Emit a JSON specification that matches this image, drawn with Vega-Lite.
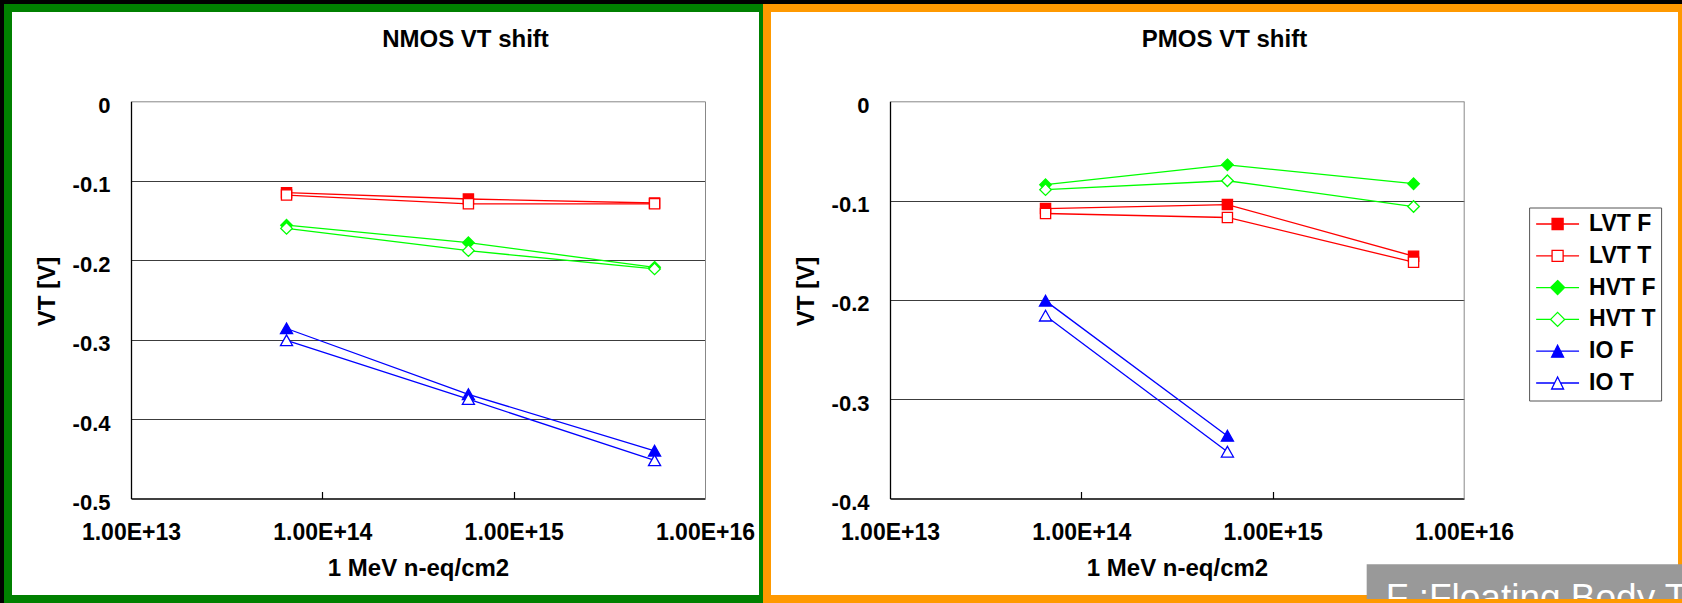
{
  "$schema": "https://vega.github.io/schema/vega-lite/v6.json",
  "background": "#000000",
  "padding": {"left": 4, "top": 4, "right": 0, "bottom": 0},
  "spacing": -8,
  "datasets": {
    "nmos": [
      {"series": "LVT F", "dose": 6.5e13, "vt": -0.115},
      {"series": "LVT F", "dose": 5.8e14, "vt": -0.123},
      {"series": "LVT F", "dose": 5.45e15, "vt": -0.128},
      {"series": "HVT F", "dose": 6.5e13, "vt": -0.156},
      {"series": "HVT F", "dose": 5.8e14, "vt": -0.178},
      {"series": "HVT F", "dose": 5.45e15, "vt": -0.209},
      {"series": "IO F", "dose": 6.5e13, "vt": -0.286},
      {"series": "IO F", "dose": 5.8e14, "vt": -0.369},
      {"series": "IO F", "dose": 5.45e15, "vt": -0.440},
      {"series": "LVT T", "dose": 6.5e13, "vt": -0.118},
      {"series": "LVT T", "dose": 5.8e14, "vt": -0.129},
      {"series": "LVT T", "dose": 5.45e15, "vt": -0.129},
      {"series": "HVT T", "dose": 6.5e13, "vt": -0.160},
      {"series": "HVT T", "dose": 5.8e14, "vt": -0.188},
      {"series": "HVT T", "dose": 5.45e15, "vt": -0.211},
      {"series": "IO T", "dose": 6.5e13, "vt": -0.301},
      {"series": "IO T", "dose": 5.8e14, "vt": -0.375},
      {"series": "IO T", "dose": 5.45e15, "vt": -0.452}
    ],
    "pmos": [
      {"series": "LVT F", "dose": 6.5e13, "vt": -0.108},
      {"series": "LVT F", "dose": 5.8e14, "vt": -0.104},
      {"series": "LVT F", "dose": 5.45e15, "vt": -0.156},
      {"series": "HVT F", "dose": 6.5e13, "vt": -0.084},
      {"series": "HVT F", "dose": 5.8e14, "vt": -0.064},
      {"series": "HVT F", "dose": 5.45e15, "vt": -0.083},
      {"series": "IO F", "dose": 6.5e13, "vt": -0.201},
      {"series": "IO F", "dose": 5.8e14, "vt": -0.337},
      {"series": "LVT T", "dose": 6.5e13, "vt": -0.113},
      {"series": "LVT T", "dose": 5.8e14, "vt": -0.117},
      {"series": "LVT T", "dose": 5.45e15, "vt": -0.162},
      {"series": "HVT T", "dose": 6.5e13, "vt": -0.089},
      {"series": "HVT T", "dose": 5.8e14, "vt": -0.080},
      {"series": "HVT T", "dose": 5.45e15, "vt": -0.106},
      {"series": "IO T", "dose": 6.5e13, "vt": -0.216},
      {"series": "IO T", "dose": 5.8e14, "vt": -0.353}
    ]
  },
  "hconcat": [
    {
      "width": 755,
      "height": 591,
      "view": {"fill": "#ffffff", "stroke": "#008000", "strokeWidth": 8},
      "title": {"text": "NMOS VT shift", "anchor": "middle", "frame": "group", "dx": 80, "offset": -44, "baseline": "top", "fontSize": 24, "fontWeight": "bold", "font": "Liberation Sans", "color": "#000000"},
      "data": {"name": "nmos"},
      "layer": [
        {
          "mark": {"type": "line", "strokeWidth": 1.3},
          "encoding": {
            "x": {"field": "dose", "type": "quantitative", "scale": {"type": "log", "domain": [1e13, 1e16], "range": [123, 697], "nice": false},
              "axis": {"orient": "bottom", "offset": -100.5, "values": [1e13, 1e14, 1e15, 1e16], "labelExpr": "upper(format(datum.value, '.2e'))", "ticks": false, "grid": false, "domainColor": "#000000", "domainWidth": 1.3, "labelFontSize": 23, "labelPadding": 22.5, "labelFlush": false, "labelOverlap": false, "labelBound": false, "title": "1 MeV n-eq/cm2", "titleFontSize": 24, "titlePadding": 12}},
            "y": {"field": "vt", "type": "quantitative", "scale": {"domain": [-0.5, 0], "range": [490.5, 93.3], "nice": false, "zero": false},
              "axis": {"orient": "left", "offset": -123, "values": [0, -0.1, -0.2, -0.3, -0.4, -0.5], "labelExpr": "datum.value == 0 ? '0' : '-' + format(-datum.value, '.1f')", "ticks": false, "grid": false, "domainColor": "#000000", "domainWidth": 1.3, "labelFontSize": 22, "labelPadding": 21, "labelOffset": 4, "labelOverlap": false, "labelFlush": false, "title": "VT [V]", "titleFontSize": 24, "titlePadding": 13, "titleY": 283}},
            "stroke": {"field": "series", "type": "nominal", "scale": {"domain": ["LVT F", "LVT T", "HVT F", "HVT T", "IO F", "IO T"], "range": ["#ff0000", "#ff0000", "#00ff00", "#00ff00", "#0000ff", "#0000ff"]}, "legend": null}
          }
        },
        {
          "mark": {"type": "point", "filled": true, "opacity": 1, "size": 121, "strokeWidth": 1.3},
          "encoding": {
            "x": {"field": "dose", "type": "quantitative", "scale": {"type": "log", "domain": [1e13, 1e16], "range": [123, 697], "nice": false},
              "axis": {"orient": "top", "offset": -93.3, "labels": false, "ticks": false, "grid": false, "domainColor": "#888888", "domainWidth": 1, "title": null}},
            "y": {"field": "vt", "type": "quantitative", "scale": {"domain": [-0.5, 0], "range": [490.5, 93.3], "nice": false, "zero": false},
              "axis": {"orient": "left", "offset": -123, "values": [-0.1, -0.2, -0.3, -0.4], "labels": false, "ticks": false, "domain": false, "grid": true, "gridColor": "#3c3c3c", "gridWidth": 1, "title": null}},
            "stroke": {"field": "series", "type": "nominal", "scale": {"domain": ["LVT F", "LVT T", "HVT F", "HVT T", "IO F", "IO T"], "range": ["#ff0000", "#ff0000", "#00ff00", "#00ff00", "#0000ff", "#0000ff"]}, "legend": null},
            "fill": {"field": "series", "type": "nominal", "scale": {"domain": ["LVT F", "LVT T", "HVT F", "HVT T", "IO F", "IO T"], "range": ["#ff0000", "#ffffff", "#00ff00", "#ffffff", "#0000ff", "#ffffff"]}, "legend": null},
            "shape": {"field": "series", "type": "nominal", "scale": {"domain": ["LVT F", "LVT T", "HVT F", "HVT T", "IO F", "IO T"], "range": ["M-0.93,-0.93H0.93V0.93H-0.93Z", "M-0.93,-0.93H0.93V0.93H-0.93Z", "M0,-1.05L1.05,0L0,1.05L-1.05,0Z", "M0,-1.05L1.05,0L0,1.05L-1.05,0Z", "M0,-1L1.1,0.95L-1.1,0.95Z", "M0,-1L1.1,0.95L-1.1,0.95Z"]}, "legend": null}
          }
        },
        {
          "transform": [{"filter": "false"}],
          "mark": {"type": "point", "opacity": 0},
          "encoding": {
            "x": {"field": "dose", "type": "quantitative", "scale": {"type": "log", "domain": [1e13, 1e16], "range": [123, 697], "nice": false},
              "axis": {"orient": "top", "offset": -490.5, "values": [1e14, 1e15], "labels": false, "domain": false, "ticks": true, "tickSize": 7, "tickWidth": 1.2, "tickColor": "#000000", "grid": false, "title": null}},
            "y": {"field": "vt", "type": "quantitative", "scale": {"domain": [-0.5, 0], "range": [490.5, 93.3], "nice": false, "zero": false},
              "axis": {"orient": "right", "offset": -58, "labels": false, "ticks": false, "grid": false, "domainColor": "#888888", "domainWidth": 1, "title": null}}
          }
        }
      ],
      "resolve": {"scale": {"stroke": "independent", "fill": "independent", "shape": "independent"}, "axis": {"x": "independent", "y": "independent"}}
    },
    {
      "width": 915,
      "height": 591,
      "view": {"fill": "#ffffff", "stroke": "#ff9900", "strokeWidth": 8},
      "title": {"text": "PMOS VT shift", "anchor": "middle", "frame": "group", "dx": 0, "offset": -44, "baseline": "top", "fontSize": 24, "fontWeight": "bold", "font": "Liberation Sans", "color": "#000000"},
      "data": {"name": "pmos"},
      "layer": [
        {
          "mark": {"type": "line", "strokeWidth": 1.3},
          "encoding": {
            "x": {"field": "dose", "type": "quantitative", "scale": {"type": "log", "domain": [1e13, 1e16], "range": [123, 697], "nice": false},
              "axis": {"orient": "bottom", "offset": -100.5, "values": [1e13, 1e14, 1e15, 1e16], "labelExpr": "upper(format(datum.value, '.2e'))", "ticks": false, "grid": false, "domainColor": "#000000", "domainWidth": 1.3, "labelFontSize": 23, "labelPadding": 22.5, "labelFlush": false, "labelOverlap": false, "labelBound": false, "title": "1 MeV n-eq/cm2", "titleFontSize": 24, "titlePadding": 12}},
            "y": {"field": "vt", "type": "quantitative", "scale": {"domain": [-0.4, 0], "range": [490.5, 93.3], "nice": false, "zero": false},
              "axis": {"orient": "left", "offset": -123, "values": [0, -0.1, -0.2, -0.3, -0.4], "labelExpr": "datum.value == 0 ? '0' : '-' + format(-datum.value, '.1f')", "ticks": false, "grid": false, "domainColor": "#000000", "domainWidth": 1.3, "labelFontSize": 22, "labelPadding": 21, "labelOffset": 4, "labelOverlap": false, "labelFlush": false, "title": "VT [V]", "titleFontSize": 24, "titlePadding": 13, "titleY": 283}},
            "stroke": {"field": "series", "type": "nominal", "scale": {"domain": ["LVT F", "LVT T", "HVT F", "HVT T", "IO F", "IO T"], "range": ["#ff0000", "#ff0000", "#00ff00", "#00ff00", "#0000ff", "#0000ff"]}, "legend": null}
          }
        },
        {
          "mark": {"type": "point", "filled": true, "opacity": 1, "size": 121, "strokeWidth": 1.3},
          "encoding": {
            "x": {"field": "dose", "type": "quantitative", "scale": {"type": "log", "domain": [1e13, 1e16], "range": [123, 697], "nice": false},
              "axis": {"orient": "top", "offset": -93.3, "labels": false, "ticks": false, "grid": false, "domainColor": "#888888", "domainWidth": 1, "title": null}},
            "y": {"field": "vt", "type": "quantitative", "scale": {"domain": [-0.4, 0], "range": [490.5, 93.3], "nice": false, "zero": false},
              "axis": {"orient": "left", "offset": -123, "values": [-0.1, -0.2, -0.3], "labels": false, "ticks": false, "domain": false, "grid": true, "gridColor": "#3c3c3c", "gridWidth": 1, "title": null}},
            "stroke": {"field": "series", "type": "nominal", "scale": {"domain": ["LVT F", "LVT T", "HVT F", "HVT T", "IO F", "IO T"], "range": ["#ff0000", "#ff0000", "#00ff00", "#00ff00", "#0000ff", "#0000ff"]}, "legend": null},
            "fill": {"field": "series", "type": "nominal", "scale": {"domain": ["LVT F", "LVT T", "HVT F", "HVT T", "IO F", "IO T"], "range": ["#ff0000", "#ffffff", "#00ff00", "#ffffff", "#0000ff", "#ffffff"]}, "legend": null},
            "shape": {"field": "series", "type": "nominal", "scale": {"domain": ["LVT F", "LVT T", "HVT F", "HVT T", "IO F", "IO T"], "range": ["M-0.93,-0.93H0.93V0.93H-0.93Z", "M-0.93,-0.93H0.93V0.93H-0.93Z", "M0,-1.05L1.05,0L0,1.05L-1.05,0Z", "M0,-1.05L1.05,0L0,1.05L-1.05,0Z", "M0,-1L1.1,0.95L-1.1,0.95Z", "M0,-1L1.1,0.95L-1.1,0.95Z"]}, "legend": null}
          }
        },
        {
          "transform": [{"filter": "false"}],
          "mark": {"type": "point", "filled": true, "opacity": 1, "size": 169},
          "encoding": {
            "x": {"field": "dose", "type": "quantitative", "scale": {"type": "log", "domain": [1e13, 1e16], "range": [123, 697], "nice": false},
              "axis": {"orient": "top", "offset": -490.5, "values": [1e14, 1e15], "labels": false, "domain": false, "ticks": true, "tickSize": 7, "tickWidth": 1.2, "tickColor": "#000000", "grid": false, "title": null}},
            "y": {"field": "vt", "type": "quantitative", "scale": {"domain": [-0.4, 0], "range": [490.5, 93.3], "nice": false, "zero": false},
              "axis": {"orient": "right", "offset": -218.3, "labels": false, "ticks": false, "grid": false, "domainColor": "#888888", "domainWidth": 1, "title": null}},
            "stroke": {"field": "series", "type": "nominal", "scale": {"domain": ["LVT F", "LVT T", "HVT F", "HVT T", "IO F", "IO T"], "range": ["#ff0000", "#ff0000", "#00ff00", "#00ff00", "#0000ff", "#0000ff"]},
              "legend": {"orient": "none", "legendX": 762.1, "legendY": 199.5, "direction": "vertical", "title": null, "padding": 5, "strokeColor": "#555555", "fillColor": "#ffffff", "symbolSize": 169, "symbolStrokeWidth": 1.3, "symbolOffset": 12, "labelOffset": 20, "labelFont": "Liberation Sans", "labelFontSize": 23, "labelFontWeight": "bold", "labelColor": "#000000", "rowPadding": 7.8, "labelLimit": 300}},
            "fill": {"field": "series", "type": "nominal", "scale": {"domain": ["LVT F", "LVT T", "HVT F", "HVT T", "IO F", "IO T"], "range": ["#ff0000", "#ffffff", "#00ff00", "#ffffff", "#0000ff", "#ffffff"]},
              "legend": {"orient": "none", "legendX": 762.1, "legendY": 199.5, "direction": "vertical", "title": null, "padding": 5, "strokeColor": "#555555", "fillColor": "#ffffff", "symbolSize": 169, "symbolStrokeWidth": 1.3, "symbolOffset": 12, "labelOffset": 20, "labelFont": "Liberation Sans", "labelFontSize": 23, "labelFontWeight": "bold", "labelColor": "#000000", "rowPadding": 7.8, "labelLimit": 300}},
            "shape": {"field": "series", "type": "nominal", "scale": {"domain": ["LVT F", "LVT T", "HVT F", "HVT T", "IO F", "IO T"], "range": ["M-3.3,0H-0.85M0.85,0H3.3M-0.85,-0.85H0.85V0.85H-0.85Z", "M-3.3,0H-0.85M0.85,0H3.3M-0.85,-0.85H0.85V0.85H-0.85Z", "M-3.3,0H-1.08M1.08,0H3.3M0,-1.08L1.08,0L0,1.08L-1.08,0Z", "M-3.3,0H-1.08M1.08,0H3.3M0,-1.08L1.08,0L0,1.08L-1.08,0Z", "M-3.3,0H-0.46M0.46,0H3.3M0,-0.92L0.92,0.92L-0.92,0.92Z", "M-3.3,0H-0.46M0.46,0H3.3M0,-0.92L0.92,0.92L-0.92,0.92Z"]},
              "legend": {"orient": "none", "legendX": 762.1, "legendY": 199.5, "direction": "vertical", "title": null, "padding": 5, "strokeColor": "#555555", "fillColor": "#ffffff", "symbolSize": 169, "symbolStrokeWidth": 1.3, "symbolOffset": 12, "labelOffset": 20, "labelFont": "Liberation Sans", "labelFontSize": 23, "labelFontWeight": "bold", "labelColor": "#000000", "rowPadding": 7.8, "labelLimit": 300}}
          }
        },
        {
          "data": {"values": [{}]},
          "mark": {"type": "rect", "color": "#999999", "clip": true},
          "encoding": {
            "x": {"datum": 3.1e15, "type": "quantitative", "scale": {"type": "log", "domain": [1e13, 1e16], "range": [123, 697], "nice": false}, "axis": null},
            "x2": {"datum": 1e18},
            "y": {"datum": -0.4663, "type": "quantitative", "scale": {"domain": [-0.4, 0], "range": [490.5, 93.3], "nice": false, "zero": false}, "axis": null},
            "y2": {"datum": -0.7}
          }
        },
        {
          "data": {"values": [{}]},
          "mark": {"type": "text", "text": "F :Floating Body T", "color": "#ffffff", "fontSize": 37, "font": "Liberation Sans", "align": "left", "baseline": "alphabetic", "clip": true},
          "encoding": {
            "x": {"datum": 3.9e15, "type": "quantitative", "scale": {"type": "log", "domain": [1e13, 1e16], "range": [123, 697], "nice": false}, "axis": null},
            "y": {"datum": -0.512, "type": "quantitative", "scale": {"domain": [-0.4, 0], "range": [490.5, 93.3], "nice": false, "zero": false}, "axis": null}
          }
        }
      ],
      "resolve": {"scale": {"stroke": "independent", "fill": "independent", "shape": "independent"}, "axis": {"x": "independent", "y": "independent"}}
    }
  ],
  "config": {
    "font": "Liberation Sans",
    "view": {"stroke": null},
    "axis": {"labelFont": "Liberation Sans", "labelFontWeight": "bold", "labelColor": "#000000", "titleFont": "Liberation Sans", "titleFontWeight": "bold", "titleColor": "#000000"}
  }
}
